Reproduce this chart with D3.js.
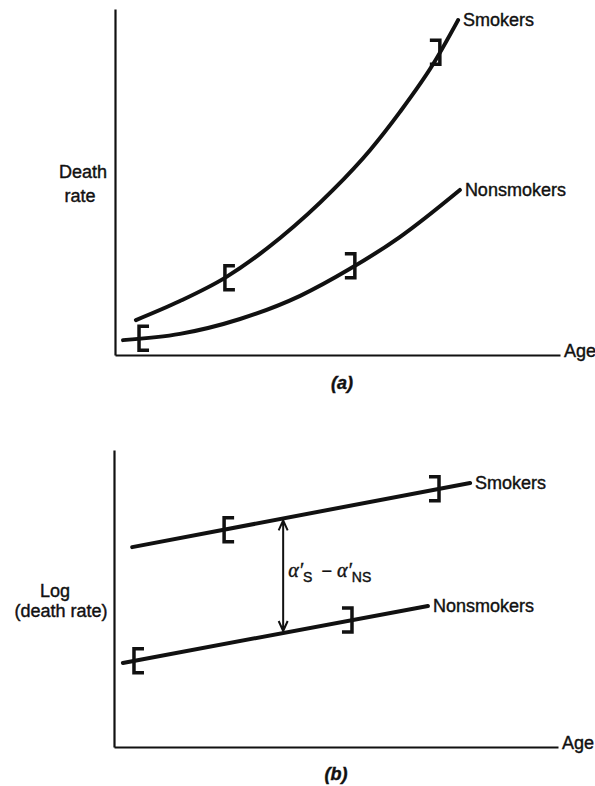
<!DOCTYPE html>
<html>
<head>
<meta charset="utf-8">
<script src="https://cdn.jsdelivr.net/npm/d3@7"></script>
<style>
    body { margin: 0; background: #fff; }
    text { font-family: "Liberation Sans", Arial, sans-serif; fill: #111; stroke: #111; stroke-width: 0.4px; }
</style>
</head>
<body>
<div id="chart"></div>
<script>
// Ages and rates are in arbitrary units (0-100).
// Panel (a): death rate by age
var smokersAgeA = [4.7, 14.6, 24.7, 37.1, 49.0, 57.3, 64.0, 71.5, 77.1];
var smokersRateA = [10.1, 15.6, 22.3, 33.8, 47.7, 59.2, 70.2, 84.1, 96.8];
var nonsmokersAgeA = [1.8, 14.6, 28.1, 41.6, 52.8, 64.0, 77.5];
var nonsmokersRateA = [4.3, 6.1, 10.4, 17.1, 24.9, 34.1, 47.7];
// observed age range of each group (brackets)
var smokersRangeA = [24.7, 73.0];
var nonsmokersRangeA = [5.4, 53.9];

// Panel (b): log(death rate) by age
var smokersAgeB = [4.1, 80.2];
var smokersLogB = [67.3, 88.9];
var nonsmokersAgeB = [2.0, 70.7];
var nonsmokersLogB = [28.3, 47.5];
var smokersRangeB = [24.8, 73.2];
var nonsmokersRangeB = [4.5, 53.6];
var gapAgeB = 38.1;

var seriesNames = ["Smokers", "Nonsmokers"];

var svg = d3.select("#chart").append("svg")
    .attr("width", 595)
    .attr("height", 786);

function drawPanel(cfg) {
    var g = svg.append("g");
    var x = d3.scaleLinear().domain([0, 100]).range([cfg.left, cfg.right]);
    var y = d3.scaleLinear().domain([0, 100]).range([cfg.bottom, cfg.top]);

    var line = d3.line()
        .x(function(d) { return x(d[0]); })
        .y(function(d) { return y(d[1]); })
        .curve(cfg.curve);

    g.append("g")
        .attr("transform", "translate(0," + cfg.bottom + ")")
        .call(d3.axisBottom(x).tickValues([]).tickSizeOuter(0));
    g.append("g")
        .attr("transform", "translate(" + cfg.left + ",0)")
        .call(d3.axisLeft(y).tickValues([]).tickSizeOuter(0));
    g.selectAll(".domain")
        .attr("stroke", "#111")
        .attr("stroke-width", 2.2);

    g.append("text")
        .attr("x", cfg.right + 4)
        .attr("y", cfg.bottom + 2)
        .attr("font-size", 18)
        .text("Age");

    var yl = g.append("text").attr("font-size", 18).attr("text-anchor", "middle");
    cfg.yLabel.forEach(function(t) {
        yl.append("tspan").attr("x", t.x).attr("y", t.y).text(t.text);
    });

    g.append("text")
        .attr("x", cfg.captionX)
        .attr("y", cfg.captionY)
        .attr("text-anchor", "middle")
        .attr("font-family", "'Liberation Serif', 'Times New Roman', serif")
        .attr("font-style", "italic")
        .attr("font-weight", "bold")
        .attr("font-size", 18)
        .text(cfg.caption);

    var interps = [];
    cfg.series.forEach(function(s, k) {
        var pts = s.ages.map(function(a, i) { return [a, s.values[i]]; });
        interps.push(d3.scaleLinear().domain(s.ages).range(s.values));

        g.append("path")
            .datum(pts)
            .attr("fill", "none")
            .attr("stroke", "#111")
            .attr("stroke-width", 4)
            .attr("stroke-linecap", "round")
            .attr("d", line);

        var last = pts[pts.length - 1];
        g.append("text")
            .attr("x", x(last[0]) + 5)
            .attr("y", y(last[1]) + 6)
            .attr("font-size", 18)
            .text(seriesNames[k]);

        // "[" at start of observed range, "]" at end
        s.range.forEach(function(a, j) {
            var px = x(a), py = y(interps[k](a)), side = j === 0 ? 1 : -1;
            g.append("path")
                .attr("fill", "none")
                .attr("stroke", "#111")
                .attr("stroke-width", 3.5)
                .attr("d", "M" + (px + side * 10) + "," + (py - 12) +
                    "H" + px + "V" + (py + 12) + "H" + (px + side * 10));
        });
    });

    if (cfg.gapAge != null) {
        var ax = x(cfg.gapAge),
            y1 = y(interps[0](cfg.gapAge)) + 2,
            y2 = y(interps[1](cfg.gapAge)) - 2;
        g.append("path")
            .attr("fill", "none")
            .attr("stroke", "#111")
            .attr("stroke-width", 2)
            .attr("d", "M" + ax + "," + y1 + "V" + y2 +
                "M" + (ax - 4.5) + "," + (y1 + 10) + "L" + ax + "," + y1 + "L" + (ax + 4.5) + "," + (y1 + 10) +
                "M" + (ax - 4.5) + "," + (y2 - 10) + "L" + ax + "," + y2 + "L" + (ax + 4.5) + "," + (y2 - 10));

        var greek = "'Liberation Serif', 'Times New Roman', serif";
        var lab = g.append("text")
            .attr("x", ax + 5)
            .attr("y", (y1 + y2) / 2 + 1)
            .attr("font-size", 20);
        lab.append("tspan").attr("font-family", greek).attr("font-style", "italic").text("\u03b1\u2032");
        lab.append("tspan").attr("font-size", 14).attr("dy", 5).text("S");
        lab.append("tspan").attr("font-size", 18).attr("dy", -5).attr("dx", 9).text("\u2212");
        lab.append("tspan").attr("font-family", greek).attr("font-style", "italic").attr("dx", 5).text("\u03b1\u2032");
        lab.append("tspan").attr("font-size", 14).attr("dy", 5).text("NS");
    }
}

drawPanel({
    left: 115, right: 560, top: 9, bottom: 355,
    curve: d3.curveMonotoneX,
    yLabel: [{ x: 83, y: 178, text: "Death" }, { x: 80, y: 202, text: "rate" }],
    caption: "(a)", captionX: 342, captionY: 389,
    series: [
        { ages: smokersAgeA, values: smokersRateA, range: smokersRangeA },
        { ages: nonsmokersAgeA, values: nonsmokersRateA, range: nonsmokersRangeA }
    ]
});

drawPanel({
    left: 114, right: 558, top: 450, bottom: 747,
    curve: d3.curveLinear,
    yLabel: [{ x: 55, y: 597, text: "Log" }, { x: 61, y: 617, text: "(death rate)" }],
    caption: "(b)", captionX: 336, captionY: 780,
    series: [
        { ages: smokersAgeB, values: smokersLogB, range: smokersRangeB },
        { ages: nonsmokersAgeB, values: nonsmokersLogB, range: nonsmokersRangeB }
    ],
    gapAge: gapAgeB
});
</script>
</body>
</html>
